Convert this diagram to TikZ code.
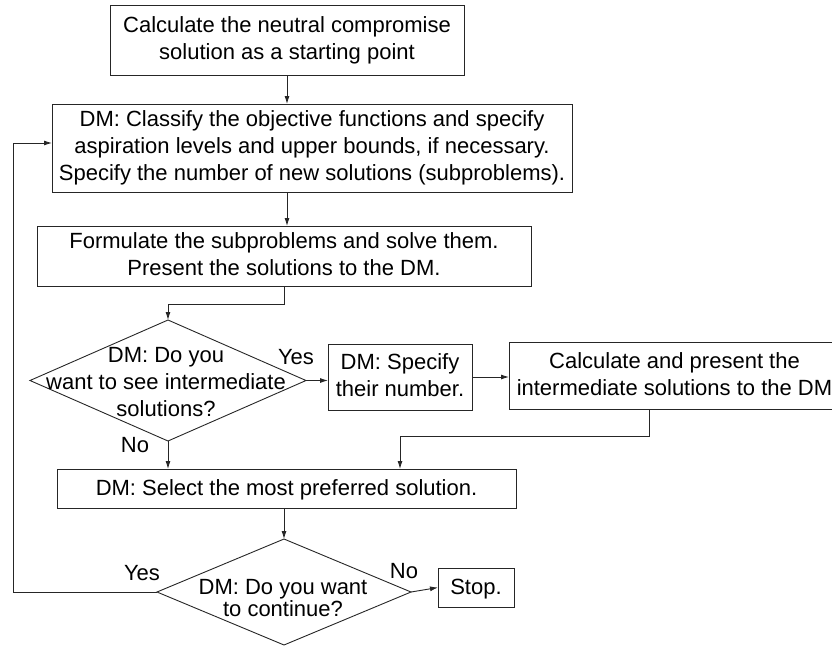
\documentclass[tikz,border=0pt]{standalone}
\usepackage{fontspec}
\setmainfont{Liberation Sans}
\usetikzlibrary{arrows.meta,shapes.geometric,calc}
% vertical padding around multi-line text so that it sits optically centred
\newcommand{\topstrut}{\rule{0pt}{18pt}}
\newcommand{\botstrut}{\rule[-3pt]{0pt}{3pt}}
\begin{document}
\begin{tikzpicture}[x=1pt,y=-1pt,
  every node/.style={font=\fontsize{22}{27}\selectfont, inner sep=0pt, outer sep=0pt},
  box/.style={draw=black!85, line width=0.9pt, align=center,
    execute at begin node=\topstrut, execute at end node=\botstrut},
  decision/.style={draw=black!85, line width=0.9pt, diamond, inner sep=0pt},
  dtext/.style={align=center, execute at begin node=\topstrut, execute at end node=\botstrut},
  tight/.style={font=\fontsize{22}{22}\selectfont},
  arr/.style={-{Latex[length=8pt,width=5pt]}, line width=0.9pt, draw=black!85}]
\useasboundingbox (0,0) rectangle (832,648);

% process boxes
\node[box, minimum width=354pt, minimum height=70pt] (b1) at (287,40)
  {Calculate the neutral compromise\\solution as a starting point};
\node[box, minimum width=520pt, minimum height=88pt] (b2) at (312,148)
  {DM: Classify the objective functions and specify\\
   aspiration levels and upper bounds, if necessary.\\
   Specify the number of new solutions (subproblems).};
\node[box, minimum width=494pt, minimum height=60pt] (b3) at (284,256)
  {Formulate the subproblems and solve them.\\Present the solutions to the DM.};
\node[box, minimum width=144pt, minimum height=66pt] (b4) at (400,377)
  {DM: Specify\\their number.};
\node[box, minimum width=331pt, minimum height=67pt] (b5) at (674.5,375.5)
  {Calculate and present the\\intermediate solutions to the DM};
\node[box, minimum width=459pt, minimum height=39pt] (b6) at (286.5,488.5)
  {DM: Select the most preferred solution.};
\node[box, minimum width=76pt, minimum height=39pt] (stop) at (476,587.5)
  {Stop.};

% decisions
\node[decision, minimum width=276pt, minimum height=121pt] (d1) at (168,380.5) {};
\node[dtext] (d1t) at (166,383)
  {DM: Do you\\want to see intermediate\\solutions?};
\node[decision, minimum width=254pt, minimum height=106pt] (d2) at (284,592) {};
\node[dtext, tight] (d2t) at (283,599)
  {DM: Do you want\\to continue?};

% branch labels
\node[anchor=base] (y1) at (296,364) {Yes};
\node[anchor=base] (n1) at (135,452) {No};
\node[anchor=base] (y2) at (142,580) {Yes};
\node[anchor=base] (n2) at (404,578) {No};

% connector bends
\coordinate (j1) at (649,436);
\coordinate (j2) at (400,436);
\coordinate (k1) at (168,304);
\coordinate (loop) at (13,143);

% connectors
\draw[arr] (b1.south) -- (b1.south |- b2.north);
\draw[arr] (b1.south |- b2.south) -- (b1.south |- b3.north);
\draw[arr] (b3.south) |- (k1) -- (d1.north);
\draw[arr] (d1.east) -- (d1.east -| b4.west);
\draw[arr] (b4.east) -- (b4.east -| b5.west);
\draw[arr] (j1 |- b5.south) -- (j1) -- (j2) -- (j2 |- b6.north);
\draw[arr] (d1.south) -- (d1.south |- b6.north);
\draw[arr] (d2.north |- b6.south) -- (d2.north);
\draw[arr] (d2.east) -- (stop.west);
\draw[arr] (d2.west) -| (loop) -- (loop -| b2.west);
\end{tikzpicture}
\end{document}
